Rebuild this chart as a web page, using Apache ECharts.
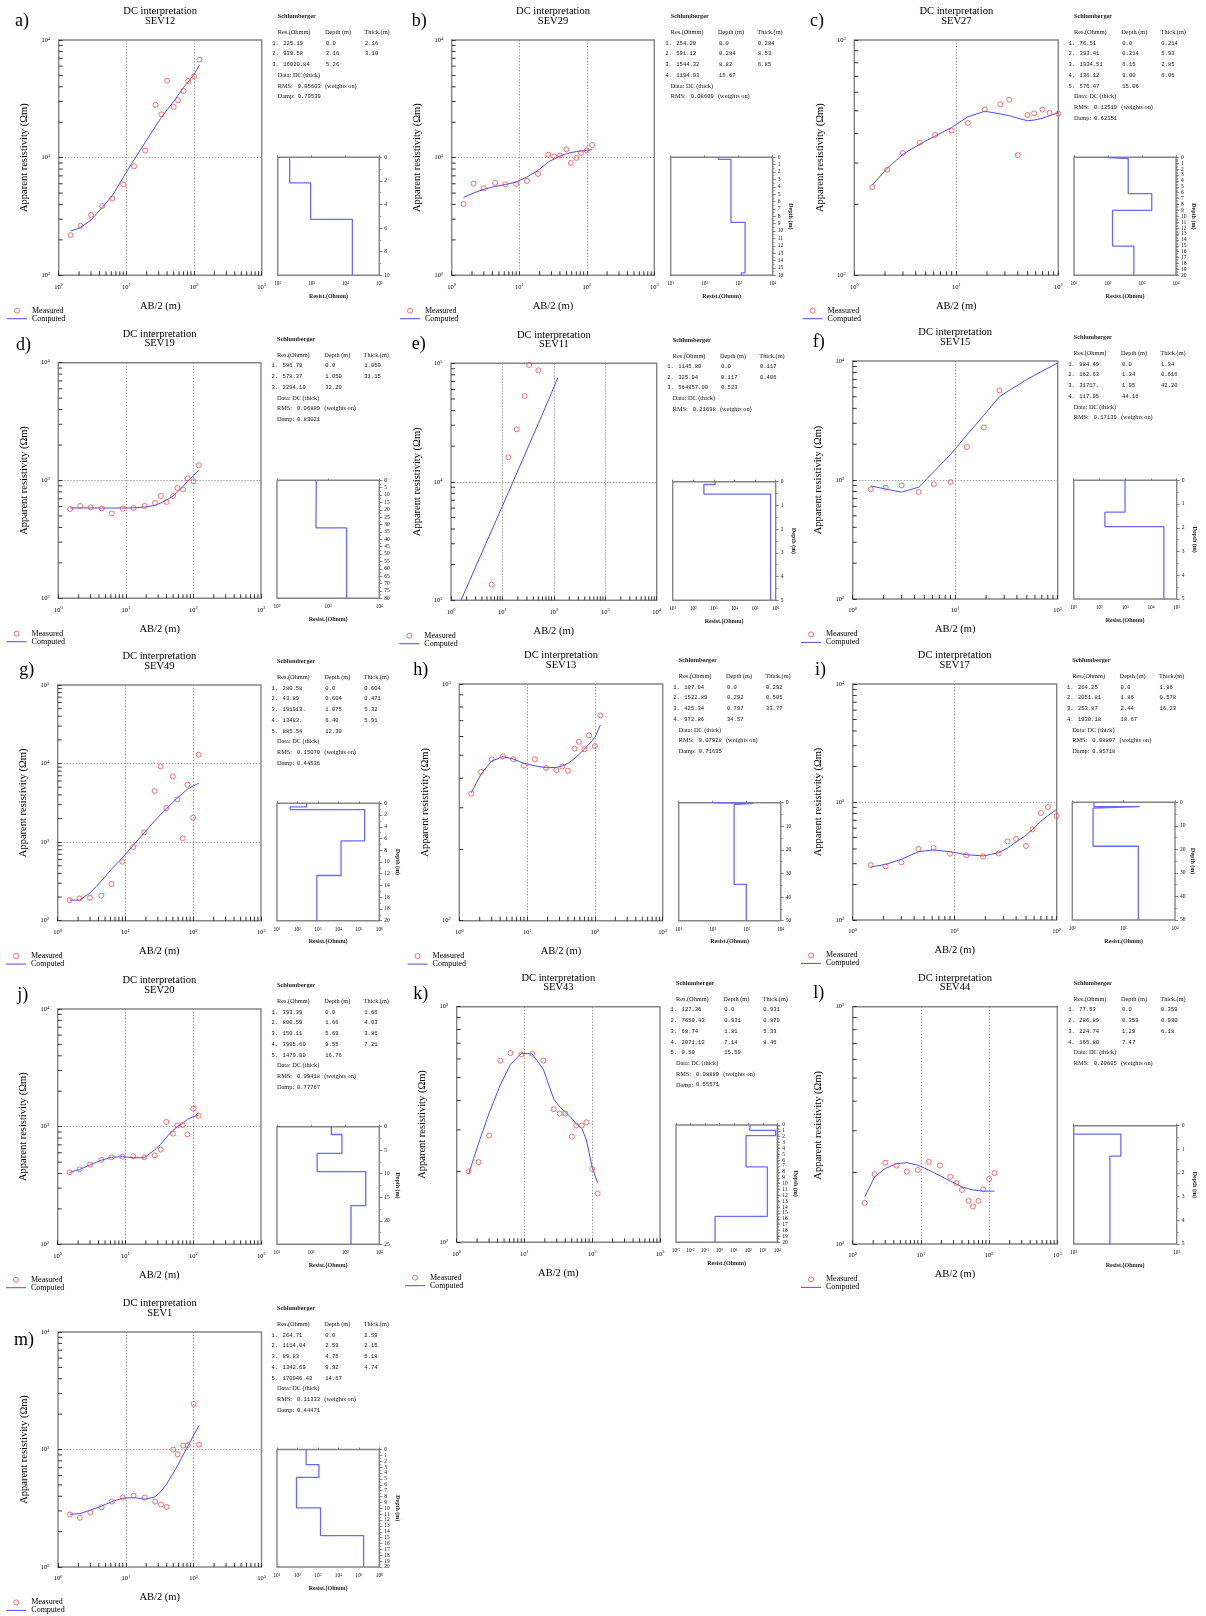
<!DOCTYPE html>
<html><head><meta charset="utf-8">
<script src="https://cdn.jsdelivr.net/npm/echarts@6/dist/echarts.min.js"></script>
<style>html,body{margin:0;padding:0;background:#fff}#c{width:1206px;height:1616px}</style>
</head><body><div id="c"></div>
<script>
// ---------------- DATA ----------------
const AB2 = [1.5, 2.1, 3, 4.4, 6.2, 9, 13, 19, 27, 33, 40, 50, 58, 70, 82, 100, 120];
const AB2to100 = [1.5, 2.1, 3, 4.4, 6.2, 9, 13, 19, 27, 33, 40, 50, 58, 70, 82, 100];

// a) SEV12
const sev12Meas = [219,264,326,388,451,593,844,1146,2805,2335,4510,2696,3070,3687,4484,4914,6808];
const sev12Comp = [238,254,295,378,475,680,960,1350,1850,2200,2550,3000,3400,3950,4400,5100,6100];
const sev12Res = ['225.19','939.58','16020.84'];
const sev12Depth = ['0.0','2.16','5.26'];
const sev12Thick = ['2.16','3.10'];
// b) SEV29
const sev29Meas = [404,601,549,609,593,597,634,727,1060,1026,1040,1177,901,994,1096,1154,1281];
const sev29Comp = [460,500,538,570,590,620,685,780,920,975,1030,1080,1105,1125,1140,1155,1170];
const sev29Res = ['254.20','591.12','1544.32','1194.93'];
const sev29Depth = ['0.0','0.284','8.82','15.67'];
const sev29Thick = ['0.284','8.53','6.85'];
// c) SEV27
const sev27Meas = [237,281,331,366,395,412,444,507,533,557,324,480,488,506,490,486];
const sev27Comp = [242,285,327,361,391,425,472,498,485,477,465,454,457,465,477,491];
const sev27Res = ['76.51','393.41','1934.51','136.12','576.47'];
const sev27Depth = ['0.0','0.214','6.15','9.00','15.06'];
const sev27Thick = ['0.214','5.93','2.85','6.06'];
// d) SEV19
const sev19Meas = [573,608,592,580,526,577,584,608,645,738,657,738,863,841,1043,984,1345];
const sev19Comp = [585,585,585,584,584,584,586,595,615,645,683,740,800,890,990,1100,1230];
const sev19Res = ['586.70','578.37','2294.19'];
const sev19Depth = ['0.0','1.050','32.20'];
const sev19Thick = ['1.050','31.15'];
// e) SEV11
const sev11MeasX = [6.2, 13, 19, 27, 33, 50];
const sev11Meas = [1356,16100,27700,53000,96800,87300];
const sev11CompX = [1.5, 3, 6.2, 13, 27, 50, 82, 120];
const sev11Comp = [960,1900,3900,8100,16800,31000,51000,76000];
const sev11Res = ['1145.80','325.94','564857.00'];
const sev11Depth = ['0.0','0.117','0.523'];
const sev11Thick = ['0.117','0.406'];
// f) SEV15
const sev15MeasX = [1.5, 2.1, 3, 4.4, 6.2, 9, 13, 19, 27];
const sev15Meas = [835,862,902,793,920,962,1893,2770,5670];
const sev15Comp = [891,840,790,870,1175,1640,2390,3500,5000,5600,6200,7000,7500,8200,8800,9600];
const sev15Res = ['984.49','162.63','31717.','117.95'];
const sev15Depth = ['0.0','1.34','1.95','44.16'];
const sev15Thick = ['1.34','0.616','42.20'];
// g) SEV49
const sev49Meas = [183,192,196,208,293,564,866,1331,4470,9210,2717,6870,3500,1117,5380,2047,12970];
const sev49Comp = [183,183,225,320,450,630,910,1320,1870,2250,2650,3200,3650,4200,4700,5200,5600];
const sev49Res = ['280.58','43.89','191913.','13483.','885.54'];
const sev49Depth = ['0.0','0.604','1.075','6.40','12.30'];
const sev49Thick = ['0.604','0.471','5.32','5.91'];
// h) SEV13
const sev13Meas = [344,425,481,495,481,452,481,442,433,448,430,533,570,530,607,547,737];
const sev13Comp = [347,417,473,493,482,462,451,443,444,451,462,484,503,530,558,595,671];
const sev13Res = ['107.04','1522.89','425.34','972.86'];
const sev13Depth = ['0.0','0.292','0.797','34.57'];
const sev13Thick = ['0.292','0.505','33.77'];
// i) SEV17
const sev17Meas = [292,285,308,400,408,365,353,346,367,464,486,424,586,807,907,761];
const sev17Comp = [281,296,327,379,392,379,358,349,372,408,458,523,586,686,766,867];
const sev17Res = ['264.25','2051.81','253.87','1930.18'];
const sev17Depth = ['0.0','1.86','2.44','18.67'];
const sev17Thick = ['1.86','0.578','16.23'];
// j) SEV20
const sev20Meas = [409,434,476,521,549,556,560,549,571,638,1096,872,1026,1033,861,1422,1240];
const sev20Comp = [409,432,474,518,549,556,545,545,634,708,811,925,1000,1067,1153,1216,1248];
const sev20Res = ['393.39','800.59','150.11','3995.60','1479.00'];
const sev20Depth = ['0.0','1.66','5.69','9.55','16.76'];
const sev20Thick = ['1.66','4.03','3.86','7.21'];
// k) SEV43
const sev43Meas = [200,219,284,590,636,628,632,590,367,352,352,281,313,313,323,205,161];
const sev43Comp = [195,263,353,465,569,634,630,542,406,376,358,336,318,305,272,208,179];
const sev43Res = ['127.36','7650.43','68.74','2071.12','0.50'];
const sev43Depth = ['0.0','0.931','1.81','7.14','15.59'];
const sev43Thick = ['0.931','0.879','5.33','8.46'];
// l) SEV44
const sev44Meas = [149,197,220,214,202,205,222,214,192,181,169,152,144,152,170,188,199];
const sev44Comp = [158,192,208,218,220,215,205,194,184,179,174,171,169,168,167,167,167];
const sev44Res = ['77.53','286.89','224.74','165.80'];
const sev44Depth = ['0.0','0.359','1.29','7.47'];
const sev44Thick = ['0.359','0.930','6.18'];
// m) SEV1
const sev1Meas = [280,262,290,322,360,390,405,390,360,340,325,1000,910,1080,1090,2450,1100];
const sev1Comp = [280,285,305,330,360,385,390,378,395,440,510,630,730,900,1070,1320,1600];
const sev1Res = ['264.71','1114.04','89.83','1342.69','170946.43'];
const sev1Depth = ['0.0','2.59','4.75','9.92','14.67'];
const sev1Thick = ['2.59','2.15','5.18','4.74'];

const PANELS = [
 {tag:'a)', sev:'SEV12', mx:AB2, meas:sev12Meas, cx:AB2, comp:sev12Comp, res:sev12Res, depth:sev12Depth, thick:sev12Thick, rms:'0.05603', damp:'0.79539', x:[1,1e3], y:[1e2,1e4], sx:[1e2,1e5], dmax:10, dint:2, dminor:2, dname:false},
 {tag:'b)', sev:'SEV29', mx:AB2, meas:sev29Meas, cx:AB2, comp:sev29Comp, res:sev29Res, depth:sev29Depth, thick:sev29Thick, rms:'0.08609', damp:null, x:[1,1e3], y:[1e2,1e4], sx:[1e1,1e4], dmax:16, dint:1, dminor:2, dname:true},
 {tag:'c)', sev:'SEV27', mx:AB2to100, meas:sev27Meas, cx:AB2to100, comp:sev27Comp, res:sev27Res, depth:sev27Depth, thick:sev27Thick, rms:'0.12519', damp:'0.62151', x:[1,1e2], y:[1e2,1e3], sx:[1e1,1e4], dmax:20, dint:1, dminor:4, dname:true},
 {tag:'d)', sev:'SEV19', mx:AB2, meas:sev19Meas, cx:AB2, comp:sev19Comp, res:sev19Res, depth:sev19Depth, thick:sev19Thick, rms:'0.06889', damp:'0.83021', x:[1,1e3], y:[1e2,1e4], sx:[1e2,1e4], dmax:80, dint:5, dminor:2, dname:false},
 {tag:'e)', sev:'SEV11', mx:sev11MeasX, meas:sev11Meas, cx:sev11CompX, comp:sev11Comp, res:sev11Res, depth:sev11Depth, thick:sev11Thick, rms:'0.21698', damp:null, x:[1,1e4], y:[1e3,1e5], sx:[1e1,1e6], dmax:5, dint:1, dminor:2, dname:true},
 {tag:'f)', sev:'SEV15', mx:sev15MeasX, meas:sev15Meas, cx:AB2to100, comp:sev15Comp, res:sev15Res, depth:sev15Depth, thick:sev15Thick, rms:'0.17139', damp:null, x:[1,1e2], y:[1e2,1e4], sx:[1e1,1e5], dmax:5, dint:1, dminor:2, dname:true},
 {tag:'g)', sev:'SEV49', mx:AB2, meas:sev49Meas, cx:AB2, comp:sev49Comp, res:sev49Res, depth:sev49Depth, thick:sev49Thick, rms:'0.15070', damp:'0.44536', x:[1,1e3], y:[1e2,1e5], sx:[1e1,1e6], dmax:20, dint:2, dminor:2, dname:true},
 {tag:'h)', sev:'SEV13', mx:AB2, meas:sev13Meas, cx:AB2, comp:sev13Comp, res:sev13Res, depth:sev13Depth, thick:sev13Thick, rms:'0.07928', damp:'0.71635', x:[1,1e3], y:[1e2,1e3], sx:[1e1,1e4], dmax:50, dint:10, dminor:2, dname:false},
 {tag:'i)', sev:'SEV17', mx:AB2to100, meas:sev17Meas, cx:AB2to100, comp:sev17Comp, res:sev17Res, depth:sev17Depth, thick:sev17Thick, rms:'0.08807', damp:'0.85718', x:[1,1e2], y:[1e2,1e4], sx:[1e2,1e4], dmax:50, dint:10, dminor:2, dname:true},
 {tag:'j)', sev:'SEV20', mx:AB2, meas:sev20Meas, cx:AB2, comp:sev20Comp, res:sev20Res, depth:sev20Depth, thick:sev20Thick, rms:'0.09418', damp:'0.77767', x:[1,1e3], y:[1e2,1e4], sx:[1e1,1e4], dmax:25, dint:5, dminor:2, dname:true},
 {tag:'k)', sev:'SEV43', mx:AB2, meas:sev43Meas, cx:AB2, comp:sev43Comp, res:sev43Res, depth:sev43Depth, thick:sev43Thick, rms:'0.08889', damp:'0.55571', x:[1,1e3], y:[1e2,1e3], sx:[1e-3,1e4], dmax:20, dint:1, dminor:4, dname:true},
 {tag:'l)', sev:'SEV44', mx:AB2, meas:sev44Meas, cx:AB2, comp:sev44Comp, res:sev44Res, depth:sev44Depth, thick:sev44Thick, rms:'0.20605', damp:null, x:[1,1e3], y:[1e2,1e3], sx:[1e2,1e3], dmax:5, dint:1, dminor:2, dname:true},
 {tag:'m)', sev:'SEV1', mx:AB2, meas:sev1Meas, cx:AB2, comp:sev1Comp, res:sev1Res, depth:sev1Depth, thick:sev1Thick, rms:'0.11333', damp:'0.44471', x:[1,1e3], y:[1e2,1e4], sx:[1e1,1e6], dmax:20, dint:1, dminor:2, dname:true}
];

// ---------------- LAYOUT (pixels) ----------------
const LAYOUT = [
 {main:[58.7,40,261.7,275.3], step:[277.7,157.3,379.3,275.3], lx:15, ldy:-18.3},
 {main:[451.7,40,654.3,275.3], step:[670.7,157.3,772.7,275.3], lx:411.7, ldy:-18.3},
 {main:[854.3,40,1058.3,275.3], step:[1074,157.3,1176,275.3], lx:810, ldy:-19},
 {main:[58.3,362.7,261,598.3], step:[277,480.3,379.3,598.3], lx:16, ldy:-17.5},
 {main:[451,363.3,656.7,600.3], step:[672.7,481.7,775.7,600.3], lx:411.7, ldy:-19},
 {main:[852.7,361,1057.7,599], step:[1073.7,480.3,1176.7,599], lx:812.7, ldy:-19},
 {main:[57.7,685,261,920.7], step:[277,803.3,379.3,920.7], lx:19.3, ldy:-15},
 {main:[459.3,684,662.7,920.7], step:[678.7,802.7,780.7,920.7], lx:413.3, ldy:-13.5},
 {main:[852.7,684,1056.7,920], step:[1072.3,802.3,1175,920], lx:815, ldy:-14},
 {main:[57.7,1009,261,1244.3], step:[277,1126.7,379.3,1244.3], lx:17.3, ldy:-14},
 {main:[456.7,1006.7,660,1242.3], step:[676,1125,777.3,1242.3], lx:413.3, ldy:-12},
 {main:[852.7,1006.7,1057.3,1244], step:[1073.7,1125.7,1176.7,1244], lx:813.3, ldy:-13.5},
 {main:[58,1332,261.5,1567], step:[277,1449.5,379.3,1567], lx:14, ldy:8}
];

// ---------------- BUILD ----------------
const SERIF = 'Liberation Serif', MONO = 'Liberation Mono';
const RED = '#f23c3c', BLUE = '#4d4df2', STEPBLUE = '#6a6aff', BOX = '#858585', TICK = '#333';
function pow10Label(v){ const e = Math.round(Math.log10(v)); return '{b|10}{e|' + e + '}'; }
function supRich(fs){ return {b:{fontSize:fs, fontFamily:SERIF, color:'#000'}, e:{fontSize:fs*0.68, fontFamily:SERIF, color:'#000', verticalAlign:'top'}}; }
// log sub-division tick values 2..9 x 10^n between min and max
function logSubTicks(min, max){
  const out = []; const e0 = Math.round(Math.log10(min)), e1 = Math.round(Math.log10(max));
  for (let e = e0; e < e1; e++) for (let k = 2; k < 10; k++) out.push(k * Math.pow(10, e));
  return out;
}
function pairs(xs, ys){ return ys.map((v, i) => [xs[i], v]); }
function stepData(res, depth, dmax){
  const r = res.map(parseFloat), d = depth.map(parseFloat), pts = [];
  for (let i = 0; i < r.length; i++) {
    const top = d[i], bot = i + 1 < r.length ? d[i + 1] : Math.max(top, dmax);
    pts.push([r[i], top], [r[i], bot]);
  }
  return pts;
}
function txt(x, y, s, o){
  o = o || {};
  const al = o.align || 'left';
  return {type:'text', x:x, y:y, silent:true, rotation:o.rotation || 0, z:10,
    style:{text:s, fontSize:o.size || 6.3, fontFamily:o.family || SERIF, fontWeight:o.weight || 'normal', fill:o.fill || '#111',
      align:al, textAlign:al, verticalAlign:'middle', textVerticalAlign:'middle'}};
}

const grid = [], xAxis = [], yAxis = [], series = [], legend = [], elements = [], mainAxes = [];
const boxGrid = (l, t, r, b) => ({left:l, top:t, width:r - l, height:b - t, show:true, borderColor:BOX, borderWidth:1.4,
  backgroundColor:'transparent', containLabel:false, outerBoundsMode:'none'});

PANELS.forEach((p, i) => {
  const L = LAYOUT[i];
  const [ml, mt, mr, mb] = L.main, [sl, st, sr, sb] = L.step;
  const gMain = grid.length; grid.push(boxGrid(ml, mt, mr, mb));
  const gStep = grid.length; grid.push(boxGrid(sl, st, sr, sb));

  const xa = xAxis.length;
  xAxis.push({type:'log', logBase:10, gridIndex:gMain, position:'bottom', min:p.x[0], max:p.x[1],
    name:'AB/2 (m)', nameLocation:'middle', nameGap:25,
    nameTextStyle:{fontSize:10.5, fontFamily:SERIF, color:'#000'},
    axisLine:{show:false}, axisTick:{show:true, inside:true, length:4, lineStyle:{color:TICK, width:1}},
    axisLabel:{formatter:pow10Label, rich:supRich(6.5), margin:8},
    splitLine:{show:true, showMinLine:false, showMaxLine:false, lineStyle:{color:'#8c8c8c', width:0.8, type:[1.5,1.5]}}});
  const xs = xAxis.length;
  xAxis.push({type:'log', logBase:10, gridIndex:gStep, position:'bottom', min:p.sx[0], max:p.sx[1],
    name:'Resist.(Ohmm)', nameLocation:'middle', nameGap:18,
    nameTextStyle:{fontSize:6, fontFamily:SERIF, fontWeight:'bold', color:'#222'},
    axisLine:{show:false}, axisTick:{show:true, inside:true, length:2, lineStyle:{color:'#666', width:0.8}},
    axisLabel:{formatter:pow10Label, rich:supRich(5.3), margin:6}, splitLine:{show:false}});

  const ya = yAxis.length;
  yAxis.push({type:'log', logBase:10, gridIndex:gMain, position:'left', min:p.y[0], max:p.y[1],
    name:'Apparent resistivity (\u03A9m)', nameLocation:'middle', nameRotate:90, nameGap:28.5,
    nameTextStyle:{fontSize:10.5, fontFamily:SERIF, color:'#000'},
    axisLine:{show:false}, axisTick:{show:true, inside:true, length:4, lineStyle:{color:TICK, width:1}},
    axisLabel:{formatter:pow10Label, rich:supRich(6.5), margin:8.5},
    splitLine:{show:true, showMinLine:false, showMaxLine:false, lineStyle:{color:'#8c8c8c', width:0.8, type:[1.5,1.5]}}});
  const ys = yAxis.length;
  yAxis.push({type:'value', gridIndex:gStep, position:'right', inverse:true, min:0, max:p.dmax, interval:p.dint,
    name:p.dname ? 'Depth (m)' : '', nameLocation:'middle', nameRotate:-90, nameGap:15,
    nameTextStyle:{fontSize:6, fontFamily:SERIF, fontWeight:'bold', color:'#222'},
    axisLine:{show:false}, axisTick:{show:true, inside:false, length:3, lineStyle:{color:'#666', width:0.8}},
    minorTick:{show:true, splitNumber:p.dminor, length:2, lineStyle:{color:'#777', width:0.7}},
    axisLabel:{fontSize:5.5, fontFamily:SERIF, color:'#111', margin:5}, splitLine:{show:false}});
  mainAxes.push({xa:xa, ya:ya});

  series.push({type:'line', name:'Computed', xAxisIndex:xa, yAxisIndex:ya, data:pairs(p.cx, p.comp),
    symbol:'none', showSymbol:false, lineStyle:{color:BLUE, width:1}, itemStyle:{color:BLUE}, z:2, silent:true});
  series.push({type:'scatter', name:'Measured', xAxisIndex:xa, yAxisIndex:ya, data:pairs(p.mx, p.meas),
    symbol:'circle', symbolSize:5, itemStyle:{color:'rgba(255,255,255,0)', borderColor:RED, borderWidth:0.9}, z:3, silent:true});
  series.push({type:'line', name:'Model', xAxisIndex:xs, yAxisIndex:ys, data:stepData(p.res, p.depth, p.dmax),
    symbol:'none', showSymbol:false, lineStyle:{color:STEPBLUE, width:1.3}, z:2, silent:true});

  legend.push({orient:'vertical', left:ml - 51.7, top:mb + 31.4, padding:0, itemWidth:20, itemHeight:5, itemGap:0,
    selectedMode:false, symbolKeepAspect:true, textStyle:{fontSize:8, fontFamily:SERIF, color:'#000', lineHeight:8},
    data:[{name:'Measured', icon:'circle', itemStyle:{color:'rgba(255,255,255,0)', borderColor:RED, borderWidth:0.9}},
          {name:'Computed', icon:'path://M0,0L20,0L20,1L0,1Z', itemStyle:{color:BLUE, borderWidth:0}}]});

  // titles and tag
  const cx = (ml + mr) / 2;
  elements.push(txt(cx, mt - 28.3, 'DC interpretation', {size:10.5, align:'center', fill:'#000'}));
  elements.push(txt(cx, mt - 19, p.sev, {size:10.5, align:'center', fill:'#000'}));
  elements.push(txt(L.lx, mt + L.ldy, p.tag, {size:18, fill:'#000'}));

  // interpretation table
  elements.push(txt(sl, mt - 23.3, 'Schlumberger', {size:6.3, weight:'bold', fill:'#222'}));
  elements.push(txt(sl, mt - 7.3, 'Res.(Ohmm)', {size:6.3}));
  elements.push(txt(sl + 47.3, mt - 7.3, 'Depth (m)', {size:6.3}));
  elements.push(txt(sl + 86.6, mt - 7.3, 'Thick.(m)', {size:6.3}));
  let row = 0;
  const ry = () => mt + 3.3 + row * 10.7;
  p.res.forEach((r, k) => {
    const y = ry();
    elements.push(txt(sl - 5.4, y, (k + 1) + '.', {size:5.5, family:MONO}));
    elements.push(txt(sl + 5.6, y, r, {size:5.5, family:MONO}));
    elements.push(txt(sl + 48.3, y, p.depth[k], {size:5.5, family:MONO}));
    if (p.thick[k] !== undefined) elements.push(txt(sl + 87.3, y, p.thick[k], {size:5.5, family:MONO}));
    row++;
  });
  elements.push(txt(sl, ry(), 'Data: DC (thick)', {size:6.3})); row++;
  elements.push(txt(sl, ry(), 'RMS:', {size:6.3}));
  elements.push(txt(sl + 20, ry(), p.rms, {size:5.5, family:MONO}));
  elements.push(txt(sl + 47.3, ry(), '(weights on)', {size:6.3})); row++;
  if (p.damp) {
    elements.push(txt(sl, ry(), 'Damp:', {size:6.3}));
    elements.push(txt(sl + 20, ry(), p.damp, {size:5.5, family:MONO}));
  }
});

const chart = echarts.init(document.getElementById('c'), null, {renderer:'canvas', width:1206, height:1616});
chart.setOption({
  animation:false, backgroundColor:'#fff',
  textStyle:{fontFamily:SERIF},
  grid:grid, xAxis:xAxis, yAxis:yAxis, series:series, legend:legend
});

// log sub-division ticks (2..9 x 10^n), positioned through the axes' own log scales
PANELS.forEach((p, i) => {
  const L = LAYOUT[i], [ml, mt, mr, mb] = L.main, A = mainAxes[i];
  logSubTicks(p.x[0], p.x[1]).forEach(v => {
    let px = chart.convertToPixel({xAxisIndex:A.xa}, v);
    if (Array.isArray(px)) px = px[0];
    if (isFinite(px)) elements.push({type:'line', silent:true, z:50, shape:{x1:px, y1:mb, x2:px, y2:mb - 4}, style:{stroke:TICK, lineWidth:1}});
  });
  logSubTicks(p.y[0], p.y[1]).forEach(v => {
    let py = chart.convertToPixel({yAxisIndex:A.ya}, v);
    if (Array.isArray(py)) py = py[1];
    if (isFinite(py)) elements.push({type:'line', silent:true, z:50, shape:{x1:ml, y1:py, x2:ml + 4, y2:py}, style:{stroke:TICK, lineWidth:1}});
  });
});
chart.setOption({graphic:{elements:elements}});
</script></body></html>
